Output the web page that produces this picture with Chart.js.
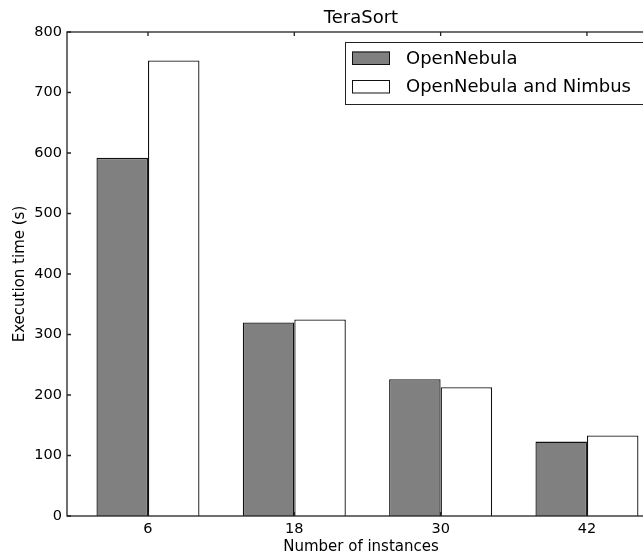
<!DOCTYPE html>
<html>
<head>
<meta charset="utf-8">
<script src="https://cdn.jsdelivr.net/npm/chart.js@4/dist/chart.umd.min.js"></script>
<style>
  html, body { margin: 0; padding: 0; background: #fff; overflow: hidden; }
  #wrap { width: 643px; height: 560px; overflow: hidden; }
  canvas { display: block; }
</style>
</head>
<body>
<div id="wrap"><canvas id="chart" width="660" height="560"></canvas></div>
<script>
  "use strict";

  const instances = [6, 18, 30, 42];
  const openNebula = [592, 320, 226, 123];
  const openNebulaNimbus = [753, 325, 213, 133];
  const seriesNames = ["OpenNebula", "OpenNebula and Nimbus"];

  const FONT = "'DejaVu Sans', sans-serif";
  const INK = "#222";

  // matplotlib-style frame: box on all sides, ticks pointing inward, boxed legend
  const framePlugin = {
    id: "frame",
    afterDraw(chart) {
      const { ctx, chartArea: a, scales } = chart;
      ctx.save();
      ctx.strokeStyle = INK;
      ctx.lineWidth = 1.3;
      ctx.strokeRect(a.left, a.top, a.right - a.left, a.bottom - a.top);
      ctx.beginPath();
      scales.x.ticks.forEach((t) => {
        const x = scales.x.getPixelForValue(t.value);
        ctx.moveTo(x, a.bottom); ctx.lineTo(x, a.bottom - 4);
        ctx.moveTo(x, a.top); ctx.lineTo(x, a.top + 4);
      });
      scales.y.ticks.forEach((t) => {
        const y = scales.y.getPixelForValue(t.value);
        ctx.moveTo(a.left, y); ctx.lineTo(a.left + 4, y);
        ctx.moveTo(a.right, y); ctx.lineTo(a.right - 4, y);
      });
      ctx.stroke();

      const boxRight = a.right - 9;
      const boxLeft = boxRight - 301;
      const boxTop = a.top + 10;
      const boxH = 62;
      ctx.fillStyle = "#fff";
      ctx.fillRect(boxLeft, boxTop, boxRight - boxLeft, boxH);
      ctx.lineWidth = 1;
      ctx.strokeStyle = INK;
      ctx.strokeRect(boxLeft + 0.5, boxTop + 0.5, boxRight - boxLeft, boxH);
      ctx.font = "18px " + FONT;
      ctx.textBaseline = "middle";
      chart.data.datasets.forEach((ds, i) => {
        const cy = boxTop + 16 + i * 28.5;
        ctx.fillStyle = ds.backgroundColor;
        ctx.fillRect(boxLeft + 7, cy - 6.5, 38, 13);
        ctx.strokeStyle = "#111";
        ctx.strokeRect(boxLeft + 7.5, cy - 6, 37, 12.5);
        ctx.fillStyle = "#000";
        ctx.fillText(ds.label, boxLeft + 61, cy + 1);
      });
      ctx.restore();
    }
  };

  new Chart(document.getElementById("chart"), {
    type: "bar",
    data: {
      labels: instances,
      datasets: [
        { label: seriesNames[0], data: openNebula, backgroundColor: "#808080", borderColor: "#111", borderWidth: 1.3 },
        { label: seriesNames[1], data: openNebulaNimbus, backgroundColor: "#ffffff", borderColor: "#111", borderWidth: 1.3 }
      ]
    },
    options: {
      responsive: false,
      animation: false,
      devicePixelRatio: 1,
      layout: { padding: { top: 0, left: 0, right: 5, bottom: 0 } },
      datasets: { bar: { categoryPercentage: 0.704, barPercentage: 1.0, borderSkipped: "start" } },
      plugins: {
        legend: { display: false },
        tooltip: { enabled: false },
        title: {
          display: true,
          text: "TeraSort",
          fullSize: false,
          color: "#000",
          font: { family: FONT, size: 18, weight: "normal" },
          padding: { top: 8, bottom: 2.4 }
        }
      },
      scales: {
        x: {
          type: "linear",
          offset: false,
          min: -0.64,
          max: 47.58,
          afterBuildTicks: (s) => { s.ticks = instances.map((v) => ({ value: v })); },
          afterFit: (s) => { s.height = 44; },
          grid: { display: false, drawTicks: false },
          border: { display: false },
          ticks: { color: "#000", padding: 5, font: { family: FONT, size: 14.5 } },
          title: {
            display: true,
            text: "Number of instances",
            color: "#000",
            font: { family: FONT, size: 15 },
            padding: { top: 0, bottom: 4 }
          }
        },
        y: {
          min: 0,
          max: 800,
          afterFit: (s) => { s.width = 67; },
          grid: { display: false, drawTicks: false },
          border: { display: false },
          ticks: { stepSize: 100, color: "#000", padding: 5, font: { family: FONT, size: 14.5 } },
          title: {
            display: true,
            text: "Execution time (s)",
            color: "#000",
            font: { family: FONT, size: 15 },
            padding: { top: 11, bottom: 0 }
          }
        }
      }
    },
    plugins: [framePlugin]
  });
</script>
</body>
</html>
